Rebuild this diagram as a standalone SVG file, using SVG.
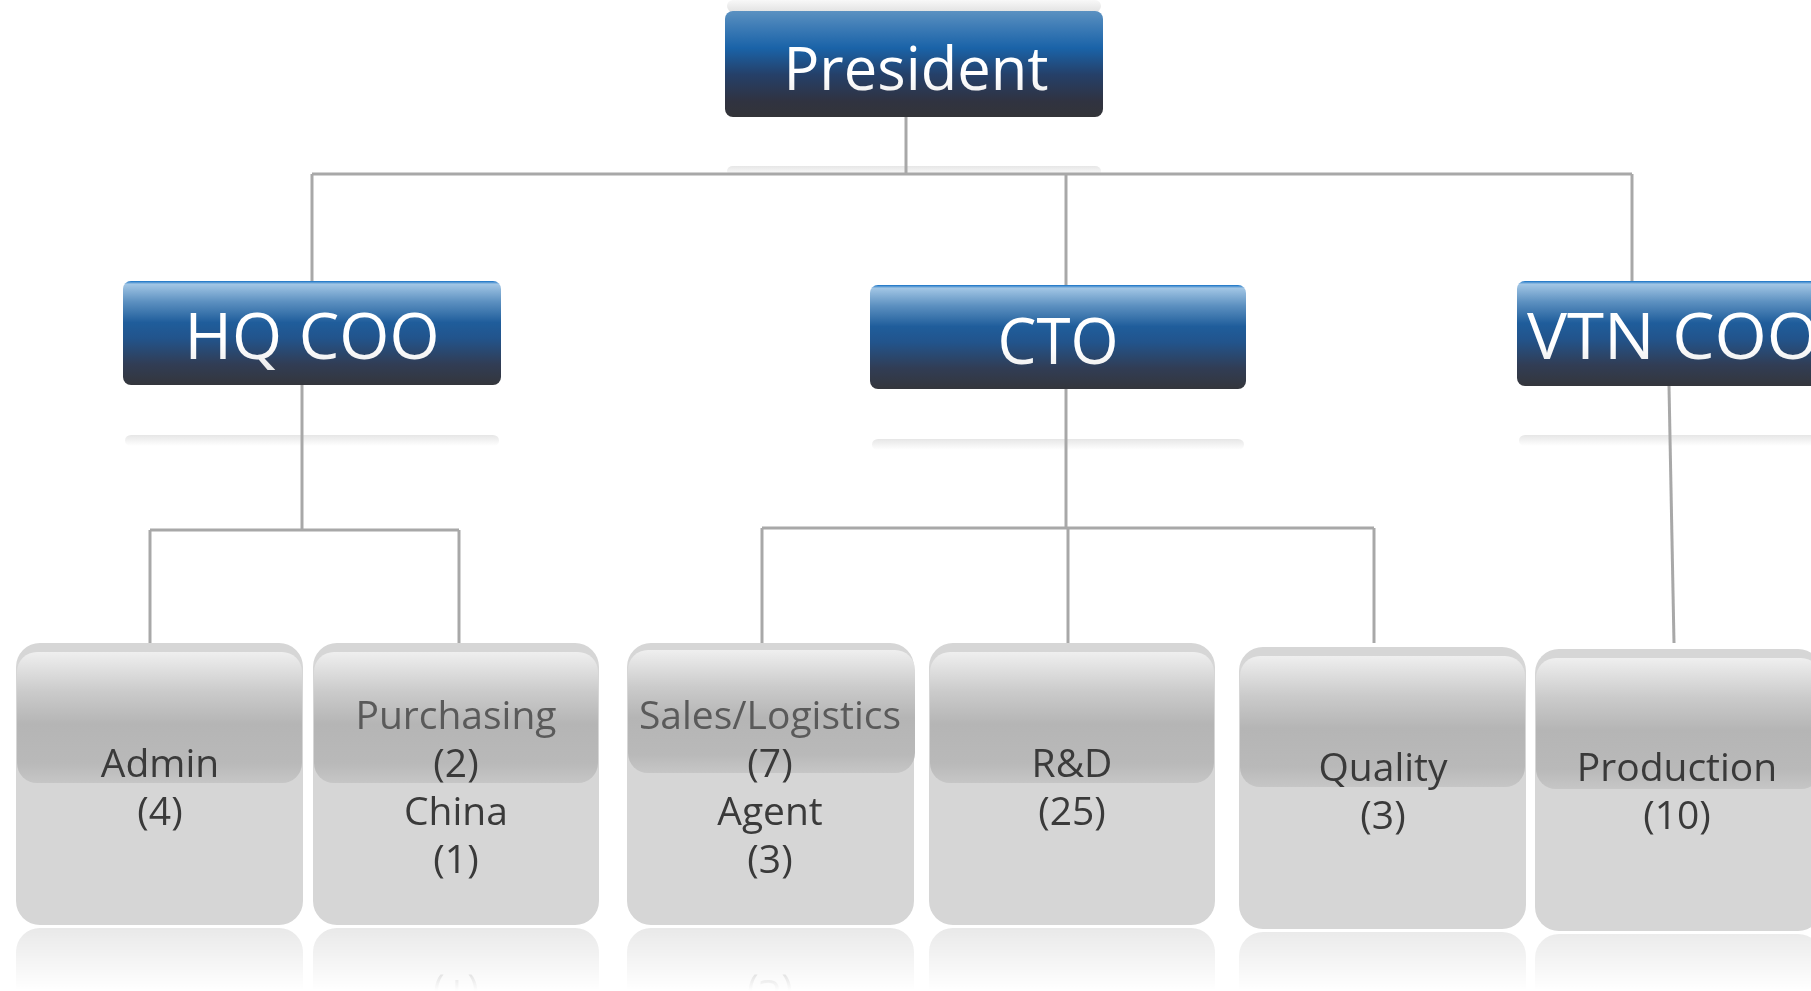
<svg xmlns="http://www.w3.org/2000/svg" xmlns:xlink="http://www.w3.org/1999/xlink" width="1811" height="991" viewBox="0 0 1811 991">
<style>
.top-t{font-family:"Open Sans","Noto Sans","Liberation Sans",sans-serif;font-weight:400;fill:url(#tg);text-anchor:middle}
.bt{font-family:"Open Sans","Noto Sans","Liberation Sans",sans-serif;font-weight:400;font-size:39px;fill:#3a3a3a;text-anchor:middle}
.bt2{fill:#5a5a5a}
.base{fill:#d6d6d6}
.band{fill:url(#band)}
.con{stroke:#a8a8a8;stroke-width:3;fill:none}
.refl{fill:url(#rg)}
</style>
<defs>
<linearGradient id="blue" x1="0" y1="0" x2="0" y2="1">
<stop offset="0" stop-color="#1470c4"/>
<stop offset="0.03" stop-color="#a2c6e5"/>
<stop offset="0.2" stop-color="#5c90c0"/>
<stop offset="0.4" stop-color="#1f5d9b"/>
<stop offset="0.55" stop-color="#22548c"/>
<stop offset="0.8" stop-color="#313d55"/>
<stop offset="1" stop-color="#34363c"/>
</linearGradient>
<linearGradient id="pres" x1="0" y1="0" x2="0" y2="1">
<stop offset="0" stop-color="#5b91c1"/>
<stop offset="0.15" stop-color="#3e7cb6"/>
<stop offset="0.35" stop-color="#1a63a8"/>
<stop offset="0.6" stop-color="#254069"/>
<stop offset="0.85" stop-color="#303341"/>
<stop offset="1" stop-color="#333438"/>
</linearGradient>
<linearGradient id="tg" x1="0" y1="0" x2="0" y2="1">
<stop offset="0" stop-color="#ffffff"/>
<stop offset="0.6" stop-color="#ffffff"/>
<stop offset="1" stop-color="#e4e4e4"/>
</linearGradient>
<linearGradient id="band" x1="0" y1="0" x2="0" y2="1">
<stop offset="0" stop-color="#efefef"/>
<stop offset="0.3" stop-color="#cbcbcb"/>
<stop offset="0.55" stop-color="#b5b5b5"/>
<stop offset="0.85" stop-color="#b9b9b9"/>
<stop offset="1" stop-color="#c6c6c6"/>
</linearGradient>
<linearGradient id="rg" x1="0" y1="0" x2="0" y2="1">
<stop offset="0" stop-color="#e6e6e6"/>
<stop offset="1" stop-color="#ffffff"/>
</linearGradient>
<linearGradient id="rgUp" x1="0" y1="0" x2="0" y2="1">
<stop offset="0" stop-color="#f8f8f8"/>
<stop offset="1" stop-color="#e2e2e2"/>
</linearGradient>
<linearGradient id="fadeG" gradientUnits="userSpaceOnUse" x1="0" y1="927" x2="0" y2="991">
<stop offset="0" stop-color="#fff" stop-opacity="0.55"/>
<stop offset="1" stop-color="#fff" stop-opacity="0"/>
</linearGradient>
<mask id="fade" maskUnits="userSpaceOnUse" x="0" y="926" width="1811" height="65">
<rect x="0" y="926" width="1811" height="65" fill="url(#fadeG)"/>
</mask>
</defs>
<rect width="1811" height="991" fill="#ffffff"/>

<g id="reflections">
<rect x="727" y="0" width="374" height="12" rx="6" fill="url(#rgUp)"/>
<rect x="727" y="166" width="374" height="10" rx="6" class="refl"/>
<rect x="125" y="435" width="374" height="11" rx="6" class="refl"/>
<rect x="872" y="439" width="372" height="11" rx="6" class="refl"/>
<rect x="1519" y="435" width="300" height="11" rx="6" class="refl"/>
<g mask="url(#fade)">
<use xlink:href="#admin" transform="matrix(1 0 0 -1 0 1853)"/>
<use xlink:href="#purchasing" transform="matrix(1 0 0 -1 0 1853)"/>
<use xlink:href="#sales" transform="matrix(1 0 0 -1 0 1853)"/>
<use xlink:href="#rnd" transform="matrix(1 0 0 -1 0 1853)"/>
<use xlink:href="#quality" transform="matrix(1 0 0 -1 0 1861)"/>
<use xlink:href="#production" transform="matrix(1 0 0 -1 0 1865)"/>
</g>
</g>

<g id="connectors" class="con">
<path d="M906 117V174"/>
<path d="M312 174H1632"/>
<path d="M312 174V288"/>
<path d="M1066 174V290"/>
<path d="M1632 174V286"/>
<path d="M302 385V530"/>
<path d="M150 530H459"/>
<path d="M150 530V643"/>
<path d="M459 530V643"/>
<path d="M1066 389V528"/>
<path d="M762 528H1374"/>
<path d="M762 528V643"/>
<path d="M1068 528V643"/>
<path d="M1374 528V643"/>
<path d="M1669 386L1674 643"/>
</g>

<g id="president">
<rect x="725" y="11" width="378" height="106" rx="8" fill="url(#pres)"/>
<text class="top-t" x="916" y="90" font-size="61" textLength="265" lengthAdjust="spacingAndGlyphs">President</text>
</g>
<g id="hq-coo">
<rect x="123" y="281" width="378" height="104" rx="8" fill="url(#blue)"/>
<text class="top-t" x="312" y="359" font-size="64" textLength="255" lengthAdjust="spacingAndGlyphs">HQ COO</text>
</g>
<g id="cto">
<rect x="870" y="285" width="376" height="104" rx="8" fill="url(#blue)"/>
<text class="top-t" x="1058" y="364" font-size="64" textLength="121" lengthAdjust="spacingAndGlyphs">CTO</text>
</g>
<g id="vtn-coo">
<rect x="1517" y="281" width="378" height="105" rx="8" fill="url(#blue)"/>
<text class="top-t" x="1527" y="359" font-size="64" style="text-anchor:start" textLength="292" lengthAdjust="spacingAndGlyphs">VTN COO</text>
</g>

<g id="admin">
<rect class="base" x="16" y="643" width="287" height="282" rx="24"/>
<rect class="band" x="17" y="652" width="285" height="131" rx="20"/>
<text class="bt" x="160" y="777">Admin</text>
<text class="bt" x="160" y="825">(4)</text>
</g>
<g id="purchasing">
<rect class="base" x="313" y="643" width="286" height="282" rx="24"/>
<rect class="band" x="314" y="652" width="284" height="131" rx="20"/>
<text class="bt bt2" x="456" y="729">Purchasing</text>
<text class="bt" x="456" y="777">(2)</text>
<text class="bt" x="456" y="825">China</text>
<text class="bt" x="456" y="873">(1)</text>
</g>
<g id="sales">
<rect class="base" x="627" y="643" width="287" height="282" rx="24"/>
<rect class="band" x="628" y="650" width="287" height="123" rx="20"/>
<text class="bt bt2" x="770" y="729">Sales/Logistics</text>
<text class="bt" x="770" y="777">(7)</text>
<text class="bt" x="770" y="825">Agent</text>
<text class="bt" x="770" y="873">(3)</text>
</g>
<g id="rnd">
<rect class="base" x="929" y="643" width="286" height="282" rx="24"/>
<rect class="band" x="930" y="652" width="284" height="131" rx="20"/>
<text class="bt" x="1072" y="777">R&amp;D</text>
<text class="bt" x="1072" y="825">(25)</text>
</g>
<g id="quality">
<rect class="base" x="1239" y="647" width="287" height="282" rx="24"/>
<rect class="band" x="1240" y="656" width="285" height="131" rx="20"/>
<text class="bt" x="1383" y="781">Quality</text>
<text class="bt" x="1383" y="829">(3)</text>
</g>
<g id="production">
<rect class="base" x="1535" y="649" width="287" height="282" rx="24"/>
<rect class="band" x="1536" y="658" width="285" height="131" rx="20"/>
<text class="bt" x="1677" y="781">Production</text>
<text class="bt" x="1677" y="829">(10)</text>
</g>
</svg>
